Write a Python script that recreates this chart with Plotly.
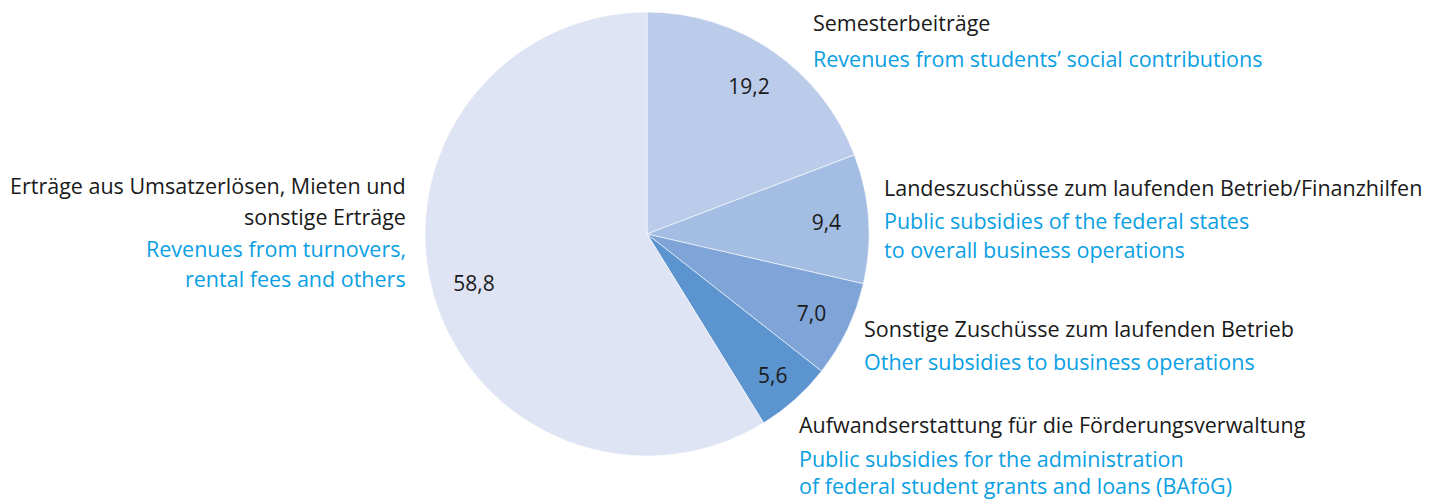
import plotly.graph_objects as go

values = [19.2, 9.4, 7.0, 5.6, 58.8]
value_labels = ["19,2", "9,4", "7,0", "5,6", "58,8"]
categories = [
    "Semesterbeiträge",
    "Landeszuschüsse zum laufenden Betrieb/Finanzhilfen",
    "Sonstige Zuschüsse zum laufenden Betrieb",
    "Aufwandserstattung für die Förderungsverwaltung",
    "Erträge aus Umsatzerlösen, Mieten und sonstige Erträge",
]
colors = ["#bbcbea", "#a4bde3", "#7fa4d7", "#5c94cf", "#dfe4f4"]

W, H = 1430, 499
FONT = "Open Sans"
BLACK = "#1a1a1a"
BLUE = "#0aa0e3"

domain = dict(x=[(647 - 222) / W, (647 + 222) / W], y=[1 - 456 / H, 1 - 12 / H])

fig = go.Figure()
fig.add_trace(go.Pie(
    values=values,
    labels=categories,
    textinfo="none",
    marker=dict(colors=colors, line=dict(color="#ffffff", width=0.6)),
    sort=False,
    direction="clockwise",
    rotation=0,
    showlegend=False,
    hoverinfo="label+value",
    domain=domain,
))
# transparent ring carrying the value labels further out in each slice
fig.add_trace(go.Pie(
    values=values,
    labels=categories,
    text=value_labels,
    textinfo="text",
    texttemplate="%{text}",
    textposition="inside",
    insidetextorientation="horizontal",
    textfont=dict(family=FONT, size=21, color=BLACK),
    marker=dict(colors=["rgba(0,0,0,0)"] * len(values), line=dict(width=0)),
    hole=0.62,
    sort=False,
    direction="clockwise",
    rotation=0,
    showlegend=False,
    hoverinfo="skip",
    domain=domain,
))

# (text, x px, y px center, color, align)
label_lines = [
    ("Semesterbeiträge", 811, 22, BLACK, "left"),
    ("Revenues from students’ social contributions", 811, 58, BLUE, "left"),
    ("Landeszuschüsse zum laufenden Betrieb/Finanzhilfen", 882, 188, BLACK, "left"),
    ("Public subsidies of the federal states", 882, 220, BLUE, "left"),
    ("to overall business operations", 882, 250, BLUE, "left"),
    ("Sonstige Zuschüsse zum laufenden Betrieb", 862, 328, BLACK, "left"),
    ("Other subsidies to business operations", 862, 361, BLUE, "left"),
    ("Aufwandserstattung für die Förderungsverwaltung", 797, 424, BLACK, "left"),
    ("Public subsidies for the administration", 797, 458, BLUE, "left"),
    ("of federal student grants and loans (BAföG)", 797, 485, BLUE, "left"),
    ("Erträge aus Umsatzerlösen, Mieten und", 408, 186, BLACK, "right"),
    ("sonstige Erträge", 408, 216, BLACK, "right"),
    ("Revenues from turnovers,", 408, 248, BLUE, "right"),
    ("rental fees and others", 408, 278, BLUE, "right"),
]

annotations = []
for txt, x, y, col, al in label_lines:
    annotations.append(dict(
        text=txt, x=x / W, y=1 - y / H, xref="paper", yref="paper",
        xanchor=al, yanchor="middle", showarrow=False,
        font=dict(family=FONT, size=21.5, color=col), align=al,
    ))

fig.update_layout(
    width=W, height=H,
    margin=dict(l=0, r=0, t=0, b=0),
    paper_bgcolor="white",
    plot_bgcolor="white",
    annotations=annotations,
)

fig.write_html("out.html")
